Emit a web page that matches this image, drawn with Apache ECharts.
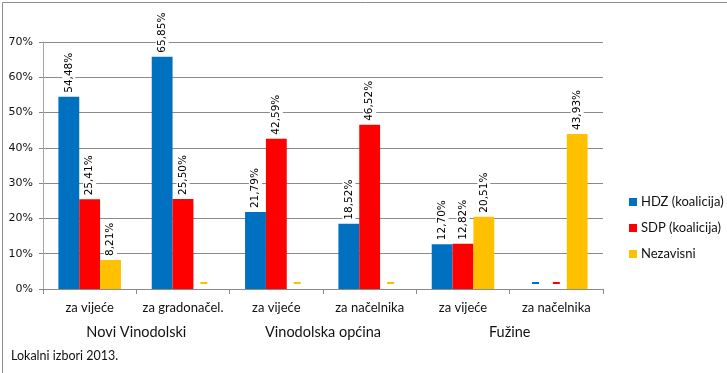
<!DOCTYPE html>
<html>
<head>
<meta charset="utf-8">
<script src="https://cdn.jsdelivr.net/npm/echarts@6/dist/echarts.min.js"></script>
<style>
html,body{margin:0;padding:0;background:#fff;}
#c{width:727px;height:373px;}
</style>
</head>
<body>
<div id="c"></div>
<script>
const categories = ['za vijeće', 'za gradonačel.', 'za vijeće', 'za načelnika', 'za vijeće', 'za načelnika'];
const groups = ['Novi Vinodolski', 'Vinodolska općina', 'Fužine'];
const seriesNames = ['HDZ (koalicija)', 'SDP (koalicija)', 'Nezavisni'];
const hdz = [54.48, 65.85, 21.79, 18.52, 12.70, 0];
const sdp = [25.41, 25.50, 42.59, 46.52, 12.82, 0];
const nez = [8.21, 0, 0, 0, 20.51, 43.93];
const colors = ['#0070C0', '#FF0000', '#FFC000'];
const footnote = 'Lokalni izbori 2013.';

const chart = echarts.init(document.getElementById('c'), null, {renderer: 'canvas'});

function mkData(arr, color) {
  return arr.map(v => {
    if (v === 0) {
      return {
        value: v,
        label: {
          show: true, rotate: 0, align: 'center', verticalAlign: 'middle',
          position: 'top', distance: 6, formatter: ' ', fontSize: 1,
          width: 7, height: 2, padding: 0, backgroundColor: color
        }
      };
    }
    return v;
  });
}

const labelFont = 'DejaVu Sans';
const txtFont = 'Lato';

const series = [hdz, sdp, nez].map((arr, i) => ({
  name: seriesNames[i],
  type: 'bar',
  xAxisIndex: 0,
  data: mkData(arr, colors[i]),
  itemStyle: {color: colors[i]},
  barGap: '0%',
  barCategoryGap: '33%',
  label: {
    show: true,
    position: 'top',
    rotate: 90,
    align: 'left',
    verticalAlign: 'middle',
    distance: 3,
    fontFamily: labelFont,
    fontSize: 10.5,
    color: '#000',
    backgroundColor: '#fff',
    padding: [1, 1, 1, 1],
    formatter: p => p.value.toFixed(2).replace('.', ',') + '%'
  }
}));

chart.setOption({
  animation: false,
  backgroundColor: '#fff',
  title: {
    text: footnote, left: 6, top: 344,
    textStyle: {fontFamily: txtFont, fontSize: 12.5, fontWeight: 'normal', color: '#111'}
  },
  grid: {left: 43, right: 124, top: 42, bottom: 84, containLabel: false},
  legend: {
    orient: 'vertical', left: 624, top: 190,
    itemWidth: 8, itemHeight: 8, itemGap: 12, icon: 'rect',
    textStyle: {fontFamily: txtFont, fontSize: 13, color: '#111', lineHeight: 14, padding: [0, 0, 0, -1]},
    data: seriesNames
  },
  xAxis: [{
    type: 'category',
    data: categories,
    axisLine: {lineStyle: {color: '#8a8a8a', width: 1}},
    axisTick: {show: true, length: 5, lineStyle: {color: '#8a8a8a'}},
    axisLabel: {fontFamily: txtFont, fontSize: 13, color: '#111', margin: 12, interval: 0}
  }, {
    type: 'category',
    data: groups,
    position: 'bottom',
    offset: 30,
    axisLine: {show: false},
    axisTick: {show: false},
    axisLabel: {fontFamily: txtFont, fontSize: 14.5, color: '#111', margin: 6, interval: 0},
    splitLine: {show: false}
  }],
  yAxis: {
    type: 'value', min: 0, max: 70, interval: 10,
    axisLine: {show: true, lineStyle: {color: '#a6a6a6'}},
    axisTick: {show: true, length: 4, lineStyle: {color: '#8a8a8a'}},
    axisLabel: {fontFamily: labelFont, fontSize: 11, color: '#111', margin: 10, formatter: '{value}%'},
    splitLine: {lineStyle: {color: '#8a8a8a', width: 1}}
  },
  graphic: [{
    type: 'rect', left: 0, top: 0, silent: true,
    shape: {x: 0.5, y: 0.5, width: 726, height: 372},
    style: {fill: 'none', stroke: '#8c8c8c', lineWidth: 1}
  }],
  series: series
});
</script>
</body>
</html>
